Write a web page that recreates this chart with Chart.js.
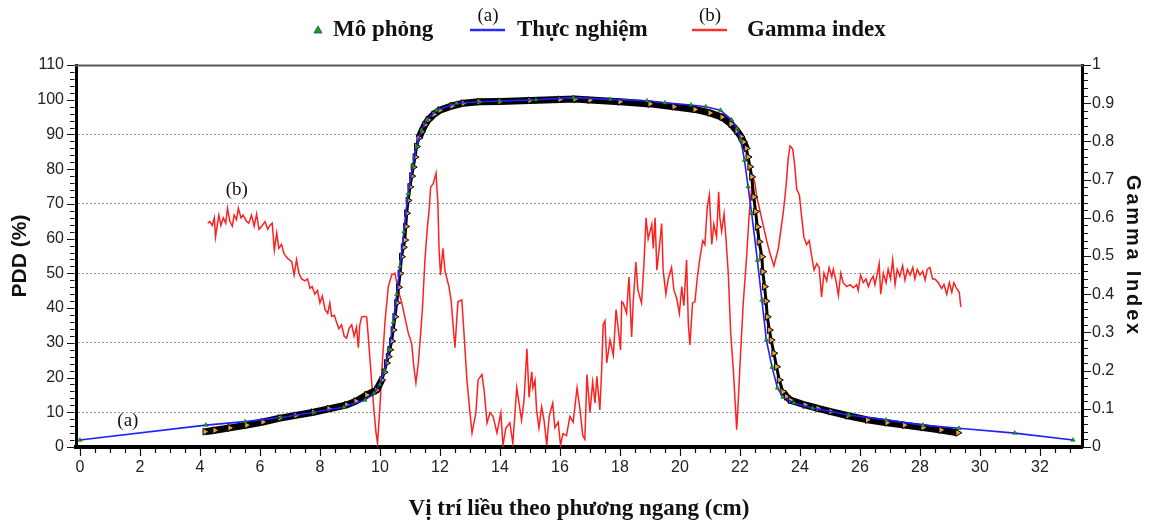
<!DOCTYPE html>
<html>
<head>
<meta charset="utf-8">
<script src="https://cdn.jsdelivr.net/npm/chart.js"></script>
<style>
  html, body { margin: 0; padding: 0; background: #fff; }
  #wrap { width: 1155px; height: 526px; }
</style>
</head>
<body>
<div id="wrap"><canvas id="profileChart" width="1155" height="526"></canvas></div>
<script>
// ===== DATA =====
const xTicks = [0, 2, 4, 6, 8, 10, 12, 14, 16, 18, 20, 22, 24, 26, 28, 30, 32];
const pddTicks = [0, 10, 20, 30, 40, 50, 60, 70, 80, 90, 100, 110];
const gammaTicks = [0, 0.1, 0.2, 0.3, 0.4, 0.5, 0.6, 0.7, 0.8, 0.9, 1];
const legendLabels = ['Mô phỏng', 'Thực nghiệm', 'Gamma index'];

// Thực nghiệm (measured) profile, PDD %
const expX = [0, 4.2, 5.5, 6.7, 7.8, 8.8, 9.5, 9.8, 10.0, 10.15,
  10.3, 10.45, 10.56, 10.67, 10.8, 10.94, 11.1, 11.22, 11.39, 11.56,
  11.89, 12.56, 13.33, 14.0, 15.2, 16.45, 17.68, 18.9, 19.5, 20.37,
  20.86, 21.35, 21.72, 21.9, 22.03, 22.15, 22.27, 22.39, 22.58, 22.73,
  22.88, 23.07, 23.25, 23.43, 23.8, 24.42, 25.63, 26.87, 28.1, 29.3,
  31.16, 33.1];
const expY = [2.0, 6.3, 7.3, 8.5, 10.0, 11.5, 13.5, 15.5, 18.0, 22,
  28, 36, 44, 52, 62, 73, 81, 86.5, 91.3, 94.2,
  97, 99, 99.4, 99.6, 100, 100.6, 100.1, 99.7, 99.1, 98.5,
  98, 97, 94.2, 91.8, 88.4, 82.6, 75, 67.3, 53.8, 42.3,
  30.8, 23, 17, 14.4, 12.7, 11.2, 9.2, 7.8, 6.3, 5.4,
  4, 2.0];

// Mô phỏng (simulated) profile, PDD %
const simX = [4.17, 4.5, 5.0, 5.56, 6.1, 6.67, 7.2, 7.78, 8.3, 8.89,
  9.2, 9.56, 9.89, 10.06, 10.14, 10.22, 10.28, 10.33, 10.39, 10.44,
  10.5, 10.56, 10.62, 10.67, 10.72, 10.78, 10.83, 10.86, 10.89, 10.94,
  11.0, 11.06, 11.11, 11.17, 11.22, 11.3, 11.39, 11.5, 11.61, 11.8,
  12.0, 12.4, 12.78, 13.3, 14.0, 15.0, 16.0, 16.5, 17.0, 18.0,
  19.0, 19.8, 20.5, 21.0, 21.4, 21.7, 21.9, 22.03, 22.12, 22.21,
  22.27, 22.33, 22.39, 22.46, 22.52, 22.58, 22.64, 22.73, 22.76, 22.82,
  22.87, 22.91, 22.98, 23.04, 23.13, 23.22, 23.31, 23.43, 23.55, 23.68,
  24.17, 24.6, 25.03, 25.6, 26.25, 26.9, 27.48, 28.1, 28.7, 29.26];
const simY = [4.4, 4.8, 5.5, 6.3, 7.2, 8.3, 9.1, 10.0, 11.0, 12.1,
  13.2, 15.0, 16.4, 19.3, 21.5, 24.2, 26, 28, 30.5, 33.7,
  37.5, 41.5, 46, 50, 54.8, 57.5, 59.6, 63.5, 67.3, 71,
  74.9, 78, 80.6, 83.5, 86.5, 89, 90.8, 92.8, 94.2, 95.8,
  97, 98.2, 99, 99.4, 99.5, 99.8, 100.1, 100.2, 99.9, 99.4,
  98.8, 98.0, 97.2, 96.2, 95.0, 93.0, 91.0, 89.4, 87.8, 86,
  83.5, 80.7, 77.8, 72, 67.8, 63.4, 59.1, 54.8, 50.5, 46.2,
  42, 37.5, 33.7, 30.8, 27, 23.1, 19.3, 15.9, 14.5, 13.5,
  12.1, 11.1, 10.2, 9.0, 7.8, 7.0, 6.3, 5.6, 4.9, 4.1];

// Gamma index (right axis)
const gammaX = [4.26, 4.33, 4.41, 4.48, 4.52, 4.59, 4.63, 4.70, 4.78, 4.86,
  4.92, 5.00, 5.08, 5.14, 5.22, 5.28, 5.37, 5.44, 5.56, 5.63,
  5.72, 5.81, 5.89, 5.97, 6.06, 6.17, 6.26, 6.33, 6.41, 6.48,
  6.56, 6.63, 6.72, 6.81, 6.92, 7.06, 7.14, 7.22, 7.30, 7.39,
  7.50, 7.59, 7.67, 7.74, 7.83, 7.92, 8.00, 8.08, 8.17, 8.26,
  8.33, 8.39, 8.48, 8.56, 8.63, 8.72, 8.81, 8.89, 8.97, 9.06,
  9.14, 9.22, 9.28, 9.33, 9.39, 9.48, 9.56, 9.63, 9.72, 9.80,
  9.87, 9.92, 10.00, 10.08, 10.17, 10.28, 10.39, 10.50, 10.61, 10.72,
  10.83, 10.94, 11.06, 11.13, 11.20, 11.28, 11.36, 11.42, 11.50, 11.58,
  11.64, 11.69, 11.78, 11.87, 11.93, 11.97, 12.02, 12.10, 12.17, 12.30,
  12.37, 12.50, 12.60, 12.73, 12.80, 12.90, 13.00, 13.07, 13.20, 13.27,
  13.40, 13.47, 13.57, 13.67, 13.77, 13.90, 14.03, 14.10, 14.20, 14.33,
  14.43, 14.56, 14.67, 14.72, 14.80, 14.90, 14.97, 15.06, 15.10, 15.17,
  15.22, 15.30, 15.39, 15.47, 15.56, 15.64, 15.76, 15.83, 15.94, 16.02,
  16.10, 16.22, 16.33, 16.44, 16.57, 16.67, 16.76, 16.83, 16.90, 17.00,
  17.09, 17.17, 17.23, 17.33, 17.39, 17.44, 17.50, 17.56, 17.67, 17.78,
  17.87, 17.97, 18.02, 18.06, 18.11, 18.22, 18.30, 18.39, 18.44, 18.53,
  18.60, 18.72, 18.80, 18.87, 18.94, 19.06, 19.11, 19.17, 19.23, 19.31,
  19.39, 19.44, 19.53, 19.61, 19.72, 19.80, 19.89, 19.98, 20.06, 20.13,
  20.22, 20.28, 20.33, 20.42, 20.50, 20.58, 20.67, 20.76, 20.83, 20.91,
  20.98, 21.06, 21.13, 21.22, 21.29, 21.33, 21.39, 21.47, 21.53, 21.61,
  21.69, 21.78, 21.86, 21.89, 21.94, 22.02, 22.11, 22.22, 22.31, 22.39,
  22.44, 22.50, 22.56, 22.72, 22.89, 23.00, 23.13, 23.28, 23.44, 23.53,
  23.61, 23.67, 23.76, 23.83, 23.89, 23.98, 24.06, 24.13, 24.22, 24.31,
  24.39, 24.47, 24.56, 24.64, 24.72, 24.80, 24.89, 24.97, 25.06, 25.11,
  25.20, 25.28, 25.36, 25.44, 25.56, 25.67, 25.78, 25.89, 25.94, 26.02,
  26.11, 26.20, 26.28, 26.36, 26.44, 26.50, 26.58, 26.64, 26.69, 26.78,
  26.87, 26.94, 27.02, 27.09, 27.17, 27.24, 27.33, 27.42, 27.50, 27.58,
  27.67, 27.76, 27.83, 27.91, 28.00, 28.09, 28.17, 28.24, 28.33, 28.42,
  28.50, 28.61, 28.72, 28.80, 28.89, 28.98, 29.06, 29.13, 29.22, 29.31,
  29.36];
const gammaY = [.586, .59, .58, .60, .55, .586, .607, .58, .60, .586,
  .625, .59, .578, .607, .595, .625, .60, .607, .59, .586,
  .607, .578, .61, .57, .578, .59, .57, .58, .586, .515,
  .56, .52, .53, .505, .494, .485, .45, .49, .455, .44,
  .435, .44, .415, .42, .40, .41, .377, .395, .36, .35,
  .377, .342, .345, .325, .31, .32, .29, .285, .31, .32,
  .29, .314, .26, .32, .34, .342, .34, .27, .175, .097,
  .037, .01, .105, .22, .33, .42, .45, .455, .41, .38,
  .34, .30, .27, .21, .168, .22, .30, .367, .49, .575,
  .62, .68, .69, .717, .64, .52, .45, .52, .46, .42,
  .385, .26, .38, .385, .30, .175, .09, .037, .09, .175,
  .19, .15, .063, .09, .08, .037, .09, .005, .05, .063,
  .01, .155, .097, .07, .12, .257, .13, .197, .155, .175,
  .097, .05, .105, .07, .005, .08, .115, .05, .065, .005,
  .035, .03, .08, .065, .155, .097, .03, .02, .19, .09,
  .17, .115, .185, .097, .20, .32, .33, .22, .28, .24,
  .36, .29, .254, .38, .377, .35, .445, .288, .377, .484,
  .41, .377, .48, .60, .545, .583, .52, .60, .463, .52,
  .585, .463, .40, .44, .47, .41, .39, .35, .42, .37,
  .49, .32, .267, .377, .38, .445, .497, .54, .53, .628,
  .66, .53, .583, .55, .668, .60, .565, .61, .55, .455,
  .30, .20, .089, .045, .115, .245, .377, .497, .612, .68,
  .707, .69, .655, .60, .54, .507, .474, .52, .612, .678,
  .757, .788, .78, .733, .675, .66, .60, .55, .53, .54,
  .50, .463, .48, .47, .393, .455, .435, .47, .445, .465,
  .435, .397, .455, .43, .42, .425, .417, .425, .41, .45,
  .43, .44, .42, .437, .447, .425, .455, .48, .40, .455,
  .43, .465, .44, .49, .425, .465, .447, .475, .437, .465,
  .45, .47, .44, .465, .45, .46, .437, .465, .47, .44,
  .44, .43, .415, .425, .40, .43, .405, .43, .415, .405,
  .367];

// curve labels inside the plot (x in cm, y in PDD %)
const noteText = ['(a)', '(b)'];
const noteX = [1.6, 5.23];
const noteY = [7.5, 74];

// ===== HELPERS =====
const SANS = '"Liberation Sans", Arial, sans-serif';
const SERIF = '"Liberation Serif", "Times New Roman", serif';
const toPts = (xs, ys) => xs.map((x, i) => ({ x, y: ys[i] }));
const tickFont = { family: SANS, size: 16 };

// ===== DECOR PLUGIN (frame, minor ticks, legend, notes) =====
const decor = {
  id: 'decor',
  afterDraw(chart) {
    const { ctx, chartArea: a, scales } = chart;
    const { x, y, y2 } = scales;
    ctx.save();

    // top frame
    ctx.strokeStyle = '#5a5a5a';
    ctx.lineWidth = 2;
    ctx.beginPath();
    ctx.moveTo(a.left - 1.5, a.top + 0.5);
    ctx.lineTo(a.right + 1.5, a.top + 0.5);
    ctx.stroke();

    // tick marks, major + minor
    ctx.strokeStyle = '#111';
    ctx.lineWidth = 1.2;
    ctx.beginPath();
    for (let i = 0; i <= 66; i++) {
      const px = Math.round(x.getPixelForValue(i * 0.5)) + 0.5;
      ctx.moveTo(px, a.bottom + 2);
      ctx.lineTo(px, a.bottom + (i % 4 === 0 ? 9 : 6));
    }
    for (let i = 0; i <= 55; i++) {
      const py = Math.round(y.getPixelForValue(i * 2)) + 0.5;
      ctx.moveTo(a.left - 1.5, py);
      ctx.lineTo(a.left - (i % 5 === 0 ? 9 : 6), py);
    }
    for (let i = 0; i <= 50; i++) {
      const py = Math.round(y2.getPixelForValue(i * 0.02)) + 0.5;
      ctx.moveTo(a.right + 1.5, py);
      ctx.lineTo(a.right + (i % 5 === 0 ? 9 : 6), py);
    }
    ctx.stroke();

    // right axis title (letter-spaced)
    ctx.save();
    ctx.translate(1133, (a.top + a.bottom) / 2);
    ctx.rotate(Math.PI / 2);
    ctx.font = 'bold 20px ' + SANS;
    ctx.letterSpacing = '2.8px';
    ctx.fillStyle = '#111';
    ctx.textAlign = 'center';
    ctx.textBaseline = 'middle';
    ctx.fillText('Gamma Index', 0, 0);
    ctx.restore();

    // legend
    const ly = 30;
    ctx.fillStyle = '#1c9c1c';
    ctx.strokeStyle = '#063';
    ctx.lineWidth = 0.8;
    ctx.beginPath();
    ctx.moveTo(318, ly - 4);
    ctx.lineTo(322, ly + 3);
    ctx.lineTo(314, ly + 3);
    ctx.closePath();
    ctx.fill();
    ctx.stroke();

    ctx.lineWidth = 2.5;
    ctx.strokeStyle = '#2a2aff';
    ctx.beginPath(); ctx.moveTo(470, ly); ctx.lineTo(505, ly); ctx.stroke();
    ctx.strokeStyle = '#ff3030';
    ctx.beginPath(); ctx.moveTo(692, ly); ctx.lineTo(727, ly); ctx.stroke();

    ctx.fillStyle = '#111';
    ctx.font = 'bold 23px ' + SERIF;
    ctx.textAlign = 'left';
    ctx.textBaseline = 'middle';
    ctx.fillText(legendLabels[0], 333, ly);
    ctx.fillText(legendLabels[1], 517, ly);
    ctx.fillText(legendLabels[2], 747, ly);

    ctx.font = '19px ' + SERIF;
    ctx.textAlign = 'center';
    ctx.fillText(noteText[0], 488, 16);
    ctx.fillText(noteText[1], 710, 16);

    // notes inside the plot
    noteText.forEach((t, i) => {
      ctx.fillText(t, x.getPixelForValue(noteX[i]), y.getPixelForValue(noteY[i]));
    });

    ctx.restore();
  }
};

// ===== CHART =====
const ctx = document.getElementById('profileChart').getContext('2d');
new Chart(ctx, {
  type: 'line',
  data: {
    datasets: [
      {
        label: legendLabels[1],
        data: toPts(expX, expY),
        yAxisID: 'y',
        order: 1,
        borderColor: '#1f1fff',
        borderWidth: 1.6,
        tension: 0,
        pointStyle: 'triangle',
        pointRadius: 2.5,
        pointBackgroundColor: '#18a818',
        pointBorderColor: '#0a4a0a',
        pointBorderWidth: 0.5,
      },
      {
        label: legendLabels[0],
        data: toPts(simX, simY),
        yAxisID: 'y',
        order: 2,
        borderColor: '#000',
        borderWidth: 7,
        segment: {
          borderWidth: c => {
            const dy = Math.abs(c.p1.parsed.y - c.p0.parsed.y);
            const dx = Math.abs(c.p1.parsed.x - c.p0.parsed.x) || 0.001;
            return dy / dx > 25 ? 3 : 7;
          }
        },
        tension: 0,
        pointStyle: 'triangle',
        pointRotation: 90,
        pointRadius: 4,
        pointBackgroundColor: '#e8a23a',
        pointBorderColor: '#000',
        pointBorderWidth: 1,
      },
      {
        label: legendLabels[2],
        data: toPts(gammaX, gammaY),
        yAxisID: 'y2',
        order: 3,
        borderColor: '#ff2020',
        borderWidth: 1.5,
        tension: 0,
        pointRadius: 0,
      }
    ]
  },
  options: {
    responsive: false,
    animation: false,
    devicePixelRatio: 1,
    layout: { padding: { top: 65, left: 0, right: 0, bottom: 0 } },
    plugins: { legend: { display: false }, tooltip: { enabled: false } },
    scales: {
      x: {
        type: 'linear',
        min: -0.13,
        max: 33.4,
        afterFit: s => { s.height = 79; },
        afterBuildTicks: s => { s.ticks = xTicks.map(v => ({ value: v })); },
        grid: { display: false, drawTicks: false },
        border: { display: true, color: '#000', width: 4 },
        ticks: { padding: 11, font: tickFont, color: '#222', maxRotation: 0, autoSkip: false },
        title: {
          display: true,
          text: 'Vị trí liều theo phương ngang (cm)',
          font: { family: SERIF, size: 23, weight: 'bold' },
          color: '#111',
          padding: { top: 0, bottom: 3 }
        }
      },
      y: {
        position: 'left',
        min: 0,
        max: 110,
        afterFit: s => { s.width = 76; },
        afterBuildTicks: s => { s.ticks = pddTicks.map(v => ({ value: v })); },
        grid: {
          drawTicks: false,
          lineWidth: 1,
          color: c => (c.tick && c.tick.value % 20 === 10) ? '#9a9a9a' : 'rgba(0,0,0,0)'
        },
        border: { color: '#000', width: 3, dash: [2, 2] },
        ticks: { padding: 12, font: tickFont, color: '#222', autoSkip: false },
        title: {
          display: true,
          text: 'PDD (%)',
          font: { family: SANS, size: 21, weight: 'bold' },
          color: '#111',
          padding: { top: 8, bottom: 0 }
        }
      },
      y2: {
        position: 'right',
        min: 0,
        max: 1,
        afterFit: s => { s.width = 73; },
        afterBuildTicks: s => { s.ticks = gammaTicks.map(v => ({ value: v })); },
        grid: { display: false, drawTicks: false },
        border: { color: '#000', width: 3 },
        ticks: {
          padding: 10, font: tickFont, color: '#222', autoSkip: false,
          callback: v => String(Math.round(v * 10) / 10)
        }
      }
    }
  },
  plugins: [decor]
});
</script>
</body>
</html>
